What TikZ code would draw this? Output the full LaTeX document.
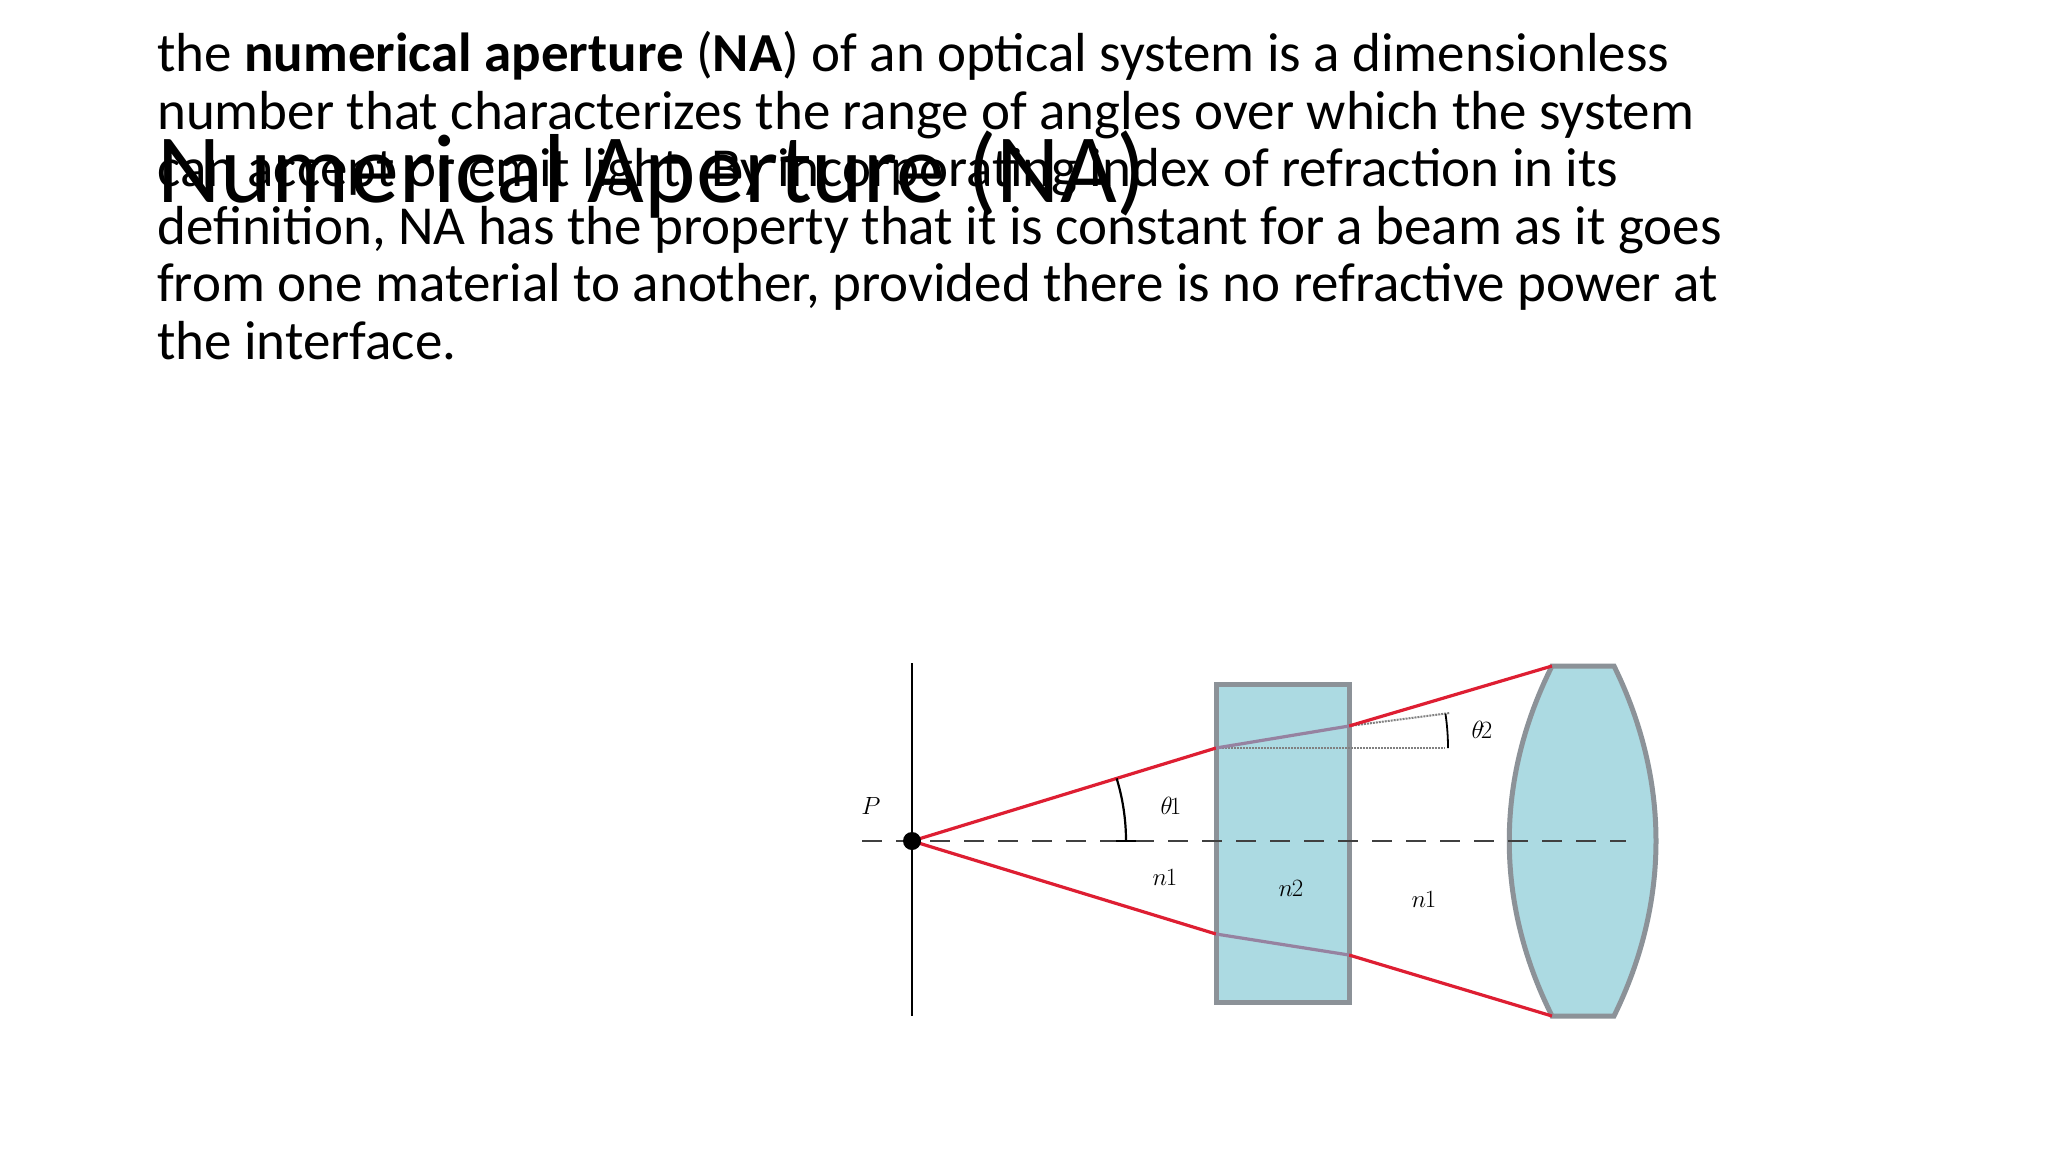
\documentclass[tikz,border=0pt]{standalone}
\usepackage{fontspec}
\setmainfont{Carlito}
\definecolor{rayred}{RGB}{222,30,50}
\definecolor{glass}{RGB}{172,218,226}
\definecolor{rim}{RGB}{140,146,152}
\definecolor{inray}{RGB}{150,130,160}
\begin{document}
\begin{tikzpicture}[x=1pt,y=-1pt,
  ray/.style={rayred,line width=3.2pt},
  optic/.style={fill=glass,draw=rim,line width=5pt},
  lbl/.style={inner sep=0pt,font=\fontsize{46}{50}\selectfont}]
\useasboundingbox (0,0) rectangle (2048,1152);
\fill[white] (0,0) rectangle (2048,1152);
\node[anchor=base west,inner sep=0pt,font=\fontsize{98}{110}\selectfont] (title) at (157,202) {Numerical Aperture (NA)};
\node[anchor=base west,inner sep=0pt,align=left,font=\fontsize{55}{57.5}\selectfont] (body) at (157,359)
{the \textbf{numerical aperture} (\textbf{NA}) of an optical system is a dimensionless\\
number that characterizes the range of angles over which the system\\
can accept or emit light. By incorporating index of refraction in its\\
definition, NA has the property that it is constant for a beam as it goes\\
from one material to another, provided there is no refractive power at\\
the interface.};
% glass & lens
\draw[optic] (1216,684) rectangle (1349,1002);
\draw[optic] (1552,666) -- (1614,666) .. controls (1670,780) and (1670,902) .. (1614,1016)
  -- (1552,1016) .. controls (1495,902) and (1495,780) .. (1552,666) -- cycle;
% screen
\draw[line width=2.5pt] (912,663) -- (912,1016);
% axis
\draw[dashed,dash pattern=on 20pt off 14pt,line width=2.2pt,black!75] (862,841) -- (1626,841);
% dotted helpers
\draw[densely dotted,gray,line width=2pt] (1216,748) -- (1445,748);
\draw[densely dotted,gray,line width=2pt] (1349,726) -- (1450,713);
% rays
\coordinate (P) at (912,841);
\coordinate (a1) at (1216,748); \coordinate (a2) at (1349,726); \coordinate (a3) at (1552,666);
\coordinate (b1) at (1216,934); \coordinate (b2) at (1349,955); \coordinate (b3) at (1552,1016);
\draw[ray] (P) -- (a1); \draw[ray] (a2) -- (a3);
\draw[ray] (P) -- (b1); \draw[ray] (b2) -- (b3);
\draw[inray,line width=3.2pt] (a1) -- (a2);
\draw[inray,line width=3.2pt] (b1) -- (b2);
\fill (P) circle (9pt);
% angles
\draw[line width=2.2pt] (P) ++(214,0) arc[start angle=0,end angle=-17,radius=214];
\draw[line width=2.2pt] (1116,841) -- (1136,841);
\draw[line width=1.8pt] (a1) ++(232,0) arc[start angle=0,end angle=-8.5,radius=232];
% labels
\node[lbl,font=\fontsize{62}{66}\selectfont] (Plbl) at (871,806) {$P$};
\node[lbl] (t1) at (1171,806) {$\theta\mkern-2mu{\scriptstyle 1}$};
\node[lbl] (t2) at (1482,730) {$\theta\mkern-2mu{\scriptstyle 2}$};
\node[lbl] (n1a) at (1165,877) {$n\mkern-1mu{\scriptstyle 1}$};
\node[lbl] (n2) at (1291,888) {$n\mkern-1mu{\scriptstyle 2}$};
\node[lbl] (n1b) at (1424,899) {$n\mkern-1mu{\scriptstyle 1}$};
\end{tikzpicture}
\end{document}
